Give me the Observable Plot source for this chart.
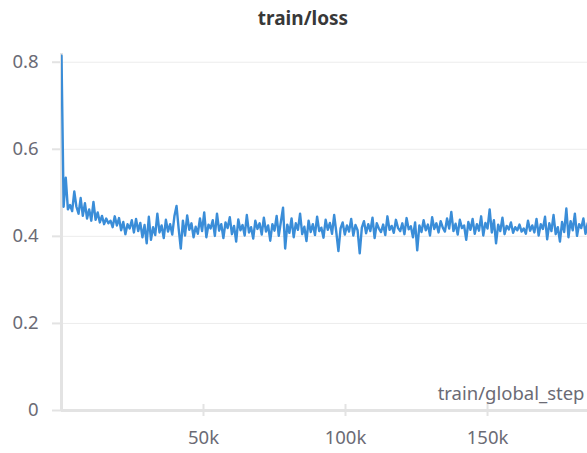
<!DOCTYPE html>
<html>
<head>
<meta charset="utf-8">
<script src="https://cdn.jsdelivr.net/npm/d3@7"></script>
<script src="https://cdn.jsdelivr.net/npm/@observablehq/plot@0.6"></script>
<style>
  html, body { margin: 0; padding: 0; background: #fff; }
  #title { width: 587px; height: 40px; line-height: 36px; text-align: center; padding-left: 19px; box-sizing: border-box;
    font-family: "Noto Sans", sans-serif; font-weight: bold; font-size: 19px; color: #383838; }
</style>
</head>
<body>
<div id="title">train/loss</div>
<div id="chart"></div>
<script>
const titleText = "train/loss";
const xLabel = "train/global_step";
const xTicks = [50000, 100000, 150000];
const yTicks = [0, 0.2, 0.4, 0.6, 0.8];

const steps = [
  0,750,1500,2250,3000,3750,4500,5250,6000,6750,
  7500,8250,9000,9750,10500,11250,12000,12750,13500,14250,
  15000,15750,16500,17250,18000,18750,19500,20250,21000,21750,
  22500,23250,24000,24750,25500,26250,27000,27750,28500,29250,
  30000,30750,31500,32250,33000,33750,34500,35250,36000,36750,
  37500,38250,39000,39750,40500,41250,42000,42750,43500,44250,
  45000,45750,46500,47250,48000,48750,49500,50250,51000,51750,
  52500,53250,54000,54750,55500,56250,57000,57750,58500,59250,
  60000,60750,61500,62250,63000,63750,64500,65250,66000,66750,
  67500,68250,69000,69750,70500,71250,72000,72750,73500,74250,
  75000,75750,76500,77250,78000,78750,79500,80250,81000,81750,
  82500,83250,84000,84750,85500,86250,87000,87750,88500,89250,
  90000,90750,91500,92250,93000,93750,94500,95250,96000,96750,
  97500,98250,99000,99750,100500,101250,102000,102750,103500,104250,
  105000,105750,106500,107250,108000,108750,109500,110250,111000,111750,
  112500,113250,114000,114750,115500,116250,117000,117750,118500,119250,
  120000,120750,121500,122250,123000,123750,124500,125250,126000,126750,
  127500,128250,129000,129750,130500,131250,132000,132750,133500,134250,
  135000,135750,136500,137250,138000,138750,139500,140250,141000,141750,
  142500,143250,144000,144750,145500,146250,147000,147750,148500,149250,
  150000,150750,151500,152250,153000,153750,154500,155250,156000,156750,
  157500,158250,159000,159750,160500,161250,162000,162750,163500,164250,
  165000,165750,166500,167250,168000,168750,169500,170250,171000,171750,
  172500,173250,174000,174750,175500,176250,177000,177750,178500,179250,
  180000,180750,181500,182250,183000,183750,184500,185250,186000
];

const losses = [
  0.815,0.468,0.535,0.462,0.472,0.458,0.503,0.468,0.452,0.488,
  0.447,0.476,0.441,0.462,0.436,0.479,0.438,0.455,0.432,0.447,
  0.428,0.441,0.430,0.436,0.421,0.446,0.425,0.442,0.414,0.433,
  0.405,0.428,0.418,0.437,0.409,0.440,0.412,0.431,0.398,0.426,
  0.384,0.445,0.392,0.421,0.403,0.452,0.409,0.425,0.396,0.438,
  0.411,0.428,0.404,0.446,0.470,0.418,0.372,0.436,0.402,0.448,
  0.415,0.430,0.398,0.422,0.406,0.441,0.412,0.455,0.398,0.427,
  0.418,0.437,0.401,0.452,0.413,0.428,0.396,0.432,0.419,0.444,
  0.405,0.424,0.388,0.439,0.414,0.426,0.402,0.449,0.409,0.421,
  0.395,0.436,0.417,0.430,0.404,0.443,0.411,0.425,0.390,0.428,
  0.413,0.447,0.401,0.434,0.466,0.372,0.427,0.408,0.441,0.398,
  0.430,0.415,0.452,0.405,0.422,0.389,0.436,0.410,0.428,0.403,
  0.445,0.412,0.420,0.397,0.438,0.415,0.431,0.406,0.449,0.410,
  0.366,0.418,0.432,0.404,0.425,0.411,0.440,0.402,0.426,0.414,
  0.361,0.420,0.435,0.407,0.428,0.412,0.443,0.396,0.430,0.418,
  0.410,0.427,0.403,0.446,0.415,0.424,0.408,0.438,0.419,0.412,
  0.430,0.405,0.442,0.416,0.423,0.398,0.432,0.368,0.425,0.410,
  0.437,0.414,0.427,0.402,0.444,0.417,0.430,0.409,0.435,0.420,
  0.411,0.441,0.418,0.456,0.412,0.429,0.404,0.438,0.419,0.425,
  0.392,0.433,0.415,0.440,0.406,0.428,0.413,0.446,0.402,0.431,
  0.418,0.462,0.409,0.437,0.384,0.427,0.412,0.443,0.405,0.424,
  0.416,0.432,0.408,0.421,0.414,0.427,0.411,0.418,0.406,0.436,
  0.413,0.425,0.409,0.440,0.402,0.428,0.417,0.445,0.393,0.430,
  0.412,0.449,0.405,0.421,0.388,0.433,0.410,0.464,0.398,0.435,
  0.414,0.452,0.401,0.428,0.419,0.441,0.406,0.430,0.417
];

const data = steps.map((s, i) => ({step: s, loss: losses[i]}));

const font = "'Noto Sans', sans-serif";
const labelColor = "#6b6b75";
const axisGray = "#e3e3e3";
const fs = 18.5;

const chart = Plot.plot({
  width: 587,
  height: 413,
  marginLeft: 61,
  marginRight: 0,
  marginTop: 13,
  marginBottom: 43,
  style: {fontFamily: font, fontSize: `${fs}px`, color: labelColor, background: "#fff", overflow: "visible"},
  x: {domain: [0, 185200], label: null},
  y: {domain: [0, 0.82], label: null},
  marks: [
    Plot.gridY(yTicks.filter(d => d > 0), {stroke: "#ececec", strokeOpacity: 1, strokeWidth: 1}),
    Plot.ruleX([0], {stroke: axisGray, strokeWidth: 3}),
    Plot.ruleY([0], {stroke: axisGray, strokeWidth: 3}),
    Plot.axisY({ticks: yTicks, tickSize: 9, tickPadding: 14, stroke: axisGray, strokeWidth: 2,
      tickFormat: d => `${d}`, fill: labelColor, fontSize: fs}),
    Plot.ruleX(xTicks, {y1: 0, y2: 0, insetTop: -6, insetBottom: -6, stroke: axisGray, strokeWidth: 2}),
    Plot.axisX({ticks: xTicks, tickSize: 0, tickPadding: 20, tickFormat: d => `${d / 1000}k`,
      fill: labelColor, fontSize: fs}),
    Plot.line(data, {x: "step", y: "loss", stroke: "#3a8dd8", strokeWidth: 2.4, clip: true, strokeLinejoin: "round"}),
    Plot.text([xLabel], {frameAnchor: "bottom-right", dx: -3, dy: -16, textAnchor: "end", lineAnchor: "middle",
      fill: labelColor, fontSize: fs})
  ]
});

document.getElementById("title").textContent = titleText;
document.getElementById("chart").appendChild(chart);
</script>
</body>
</html>
